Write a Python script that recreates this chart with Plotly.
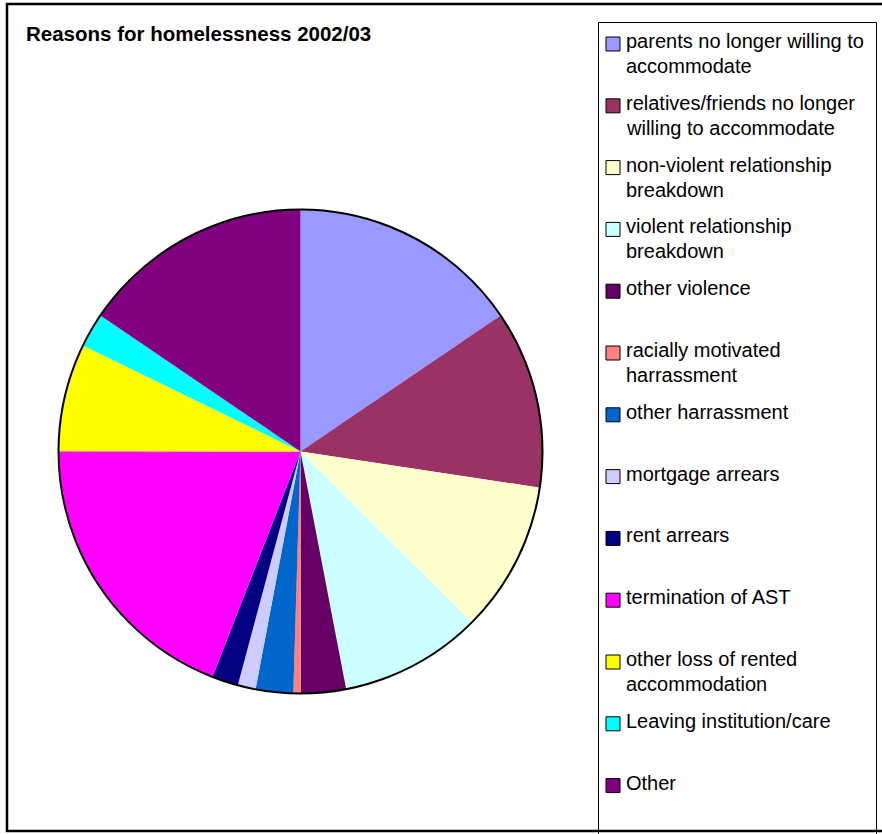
import textwrap
import plotly.graph_objects as go

W, H = 882, 834

categories = [
    "parents no longer willing to accommodate",
    "relatives/friends no longer willing to accommodate",
    "non-violent relationship breakdown",
    "violent relationship breakdown",
    "other violence",
    "racially motivated harrassment",
    "other harrassment",
    "mortgage arrears",
    "rent arrears",
    "termination of AST",
    "other loss of rented accommodation",
    "Leaving institution/care",
    "Other",
]
values = [15.5, 11.9, 10.1, 9.5, 3.0, 0.5, 2.5, 1.2, 1.75, 19.1, 7.2, 2.3, 15.5]
colors = [
    "#9999FF", "#993366", "#FFFFCC", "#CCFFFF", "#660066", "#FF8080",
    "#0066CC", "#CCCCFF", "#000080", "#FF00FF", "#FFFF00", "#00FFFF", "#800080",
]
title_text = "Reasons for homelessness 2002/03"


def px(x):
    return x / W


def py(y):
    return 1 - y / H


cx, cy, r = 300.5, 451.5, 242

fig = go.Figure()
fig.add_trace(go.Pie(
    labels=categories,
    values=values,
    marker=dict(colors=colors, line=dict(width=0)),
    sort=False,
    direction="clockwise",
    rotation=0,
    textinfo="none",
    showlegend=False,
    domain=dict(x=[px(cx - r), px(cx + r)], y=[py(cy + r), py(cy - r)]),
))

shapes = []
# pie outline
shapes.append(dict(type="circle", xref="paper", yref="paper",
                   x0=px(cx - r), x1=px(cx + r), y0=py(cy + r), y1=py(cy - r),
                   line=dict(color="black", width=2)))
# outer chart border
shapes.append(dict(type="rect", xref="paper", yref="paper",
                   x0=px(7), x1=px(900), y0=py(831), y1=py(4),
                   line=dict(color="black", width=2.5)))
# legend box
shapes.append(dict(type="rect", xref="paper", yref="paper",
                   x0=px(598.5), x1=px(876.5), y0=py(840), y1=py(22.5),
                   line=dict(color="black", width=1)))

annotations = [dict(text="<b>%s</b>" % title_text, x=px(24), y=py(34),
                    xref="paper", yref="paper", xanchor="left", yanchor="middle",
                    showarrow=False, font=dict(size=20.5, color="black"))]

fs = 20
for k, (lab, col) in enumerate(zip(categories, colors)):
    yc = 41 + 61.8 * k
    shapes.append(dict(type="rect", xref="paper", yref="paper",
                       x0=px(606), x1=px(620), y0=py(yc + 10), y1=py(yc - 4),
                       fillcolor=col, line=dict(color="black", width=1)))
    for i, line in enumerate(textwrap.wrap(lab, 28)):
        annotations.append(dict(text=line, x=px(624), y=py(yc + 25 * i),
                                xref="paper", yref="paper", xanchor="left",
                                yanchor="middle", showarrow=False,
                                font=dict(size=fs, color="black")))

fig.update_layout(
    width=W, height=H,
    margin=dict(l=0, r=0, t=0, b=0),
    paper_bgcolor="white", plot_bgcolor="white",
    font=dict(family="Liberation Sans, Arial, sans-serif", color="black"),
    shapes=shapes, annotations=annotations,
)
fig.write_html(
    "out.html",
    config={"displayModeBar": False},
    post_script="document.body.style.margin='0';document.body.style.overflow='hidden';",
)
